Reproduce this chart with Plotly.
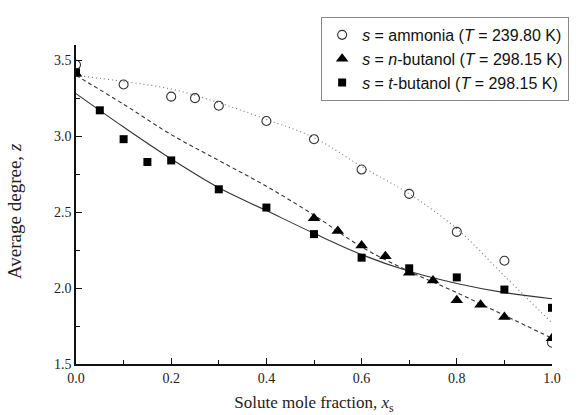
import plotly.graph_objects as go

# Experimental points
x_amm = [0.0, 0.1, 0.2, 0.25, 0.3, 0.4, 0.5, 0.6, 0.7, 0.8, 0.9, 1.0]
z_amm = [3.47, 3.34, 3.26, 3.25, 3.20, 3.10, 2.98, 2.78, 2.62, 2.37, 2.18, 1.64]

x_nbu = [0.0, 0.5, 0.55, 0.6, 0.65, 0.7, 0.75, 0.8, 0.85, 0.9, 1.0]
z_nbu = [3.41, 2.46, 2.375, 2.28, 2.21, 2.10, 2.05, 1.92, 1.89, 1.81, 1.67]

x_tbu = [0.0, 0.05, 0.1, 0.15, 0.2, 0.3, 0.4, 0.5, 0.6, 0.7, 0.8, 0.9, 1.0]
z_tbu = [3.42, 3.17, 2.98, 2.83, 2.84, 2.65, 2.53, 2.355, 2.20, 2.13, 2.07, 1.99, 1.87]

# Fitted curves
x_fit = [0.0, 0.1, 0.2, 0.3, 0.4, 0.5, 0.6, 0.7, 0.8, 0.9, 1.0]
fit_amm = [3.40, 3.36, 3.31, 3.22, 3.11, 2.99, 2.80, 2.62, 2.39, 2.08, 1.77]
fit_nbu = [3.40, 3.21, 3.01, 2.84, 2.67, 2.48, 2.27, 2.11, 1.97, 1.82, 1.67]
fit_tbu = [3.28, 3.06, 2.85, 2.66, 2.51, 2.36, 2.22, 2.11, 2.03, 1.97, 1.93]

x_ticks = [0.0, 0.2, 0.4, 0.6, 0.8, 1.0]
y_ticks = [1.5, 2.0, 2.5, 3.0, 3.5]

labels = [
    "<i>s</i> = ammonia (<i>T</i> = 239.80 K)",
    "<i>s</i> = <i>n</i>-butanol (<i>T</i> = 298.15 K)",
    "<i>s</i> = <i>t</i>-butanol (<i>T</i> = 298.15 K)",
]

fig = go.Figure()

# fit lines
fig.add_trace(go.Scatter(x=x_fit, y=fit_amm, mode="lines", line_shape="spline",
                         line=dict(color="#777777", width=1.1, dash="1px,3px"),
                         showlegend=False, hoverinfo="skip"))
fig.add_trace(go.Scatter(x=x_fit, y=fit_nbu, mode="lines", line_shape="spline",
                         line=dict(color="#333333", width=1.1, dash="4px,3px"),
                         showlegend=False, hoverinfo="skip"))
fig.add_trace(go.Scatter(x=x_fit, y=fit_tbu, mode="lines", line_shape="spline",
                         line=dict(color="#333333", width=1.1),
                         showlegend=False, hoverinfo="skip"))

# points
fig.add_trace(go.Scatter(x=x_amm, y=z_amm, mode="markers", name=labels[0],
                         marker=dict(symbol="circle-open", size=9, color="#333333",
                                     line=dict(width=1.1, color="#333333"))))
fig.add_trace(go.Scatter(x=x_nbu, y=z_nbu, mode="markers", name=labels[1],
                         marker=dict(symbol="triangle-up", size=11, color="#000000")))
fig.add_trace(go.Scatter(x=x_tbu, y=z_tbu, mode="markers", name=labels[2],
                         marker=dict(symbol="square", size=8, color="#000000")))

axis_font = dict(family="Liberation Serif", size=14, color="#222222")

fig.update_layout(
    width=584, height=415,
    margin=dict(l=76, r=32, t=45, b=51, autoexpand=False),
    paper_bgcolor="white", plot_bgcolor="white",
    showlegend=True,
    legend=dict(x=0.515, y=1.088, xanchor="left", yanchor="top",
                bordercolor="#888888", borderwidth=1, bgcolor="white",
                font=dict(family="Liberation Sans", size=16, color="#111111"),
                itemwidth=30, tracegroupgap=0),
    xaxis=dict(range=[0, 1], tickvals=x_ticks, ticktext=[f"{v:.1f}" for v in x_ticks],
               ticks="inside", ticklen=6, tickwidth=1, tickcolor="#111111",
               minor=dict(ticks="inside", dtick=0.1, ticklen=4, tickwidth=1, tickcolor="#111111"),
               showline=True, linewidth=1.5, linecolor="#111111", mirror=False,
               showgrid=False, zeroline=False, tickfont=axis_font,
               title=dict(text="Solute mole fraction, <i>x</i><sub>s</sub>",
                          font=dict(family="Liberation Serif", size=17, color="#222222"),
                          standoff=12)),
    yaxis=dict(range=[1.5, 3.6], tickvals=y_ticks, ticktext=[f"{v:.1f}" for v in y_ticks],
               ticks="inside", ticklen=6, tickwidth=1, tickcolor="#111111",
               minor=dict(ticks="inside", dtick=0.25, ticklen=4, tickwidth=1, tickcolor="#111111"),
               showline=True, linewidth=1.5, linecolor="#111111", mirror=False,
               showgrid=False, zeroline=False, tickfont=axis_font),
)

fig.add_annotation(text="Average degree, <i>z</i>", textangle=-90,
                   xref="paper", yref="paper", x=-0.128, y=0.48,
                   xanchor="center", yanchor="middle", showarrow=False,
                   font=dict(family="Liberation Serif", size=19, color="#222222"))

fig.write_html("out.html")
